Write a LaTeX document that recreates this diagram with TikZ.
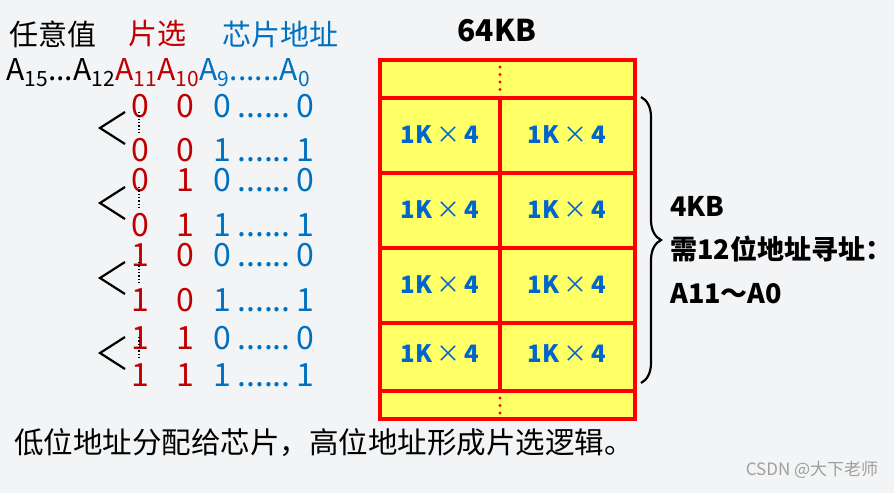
\documentclass[tikz,border=0pt]{standalone}
\usepackage{fontspec}
\setmainfont{Noto Sans CJK SC}
\usepackage{tikz}
\usetikzlibrary{decorations.pathreplacing}
\definecolor{selred}{HTML}{C00000}
\definecolor{addrblue}{HTML}{0070C0}
\definecolor{chipblue}{HTML}{0066CC}
\definecolor{chipyellow}{HTML}{FFFF66}
\definecolor{bgsky}{HTML}{F3F4F6}

\begin{document}
\begin{tikzpicture}[x=1pt,y=-1pt,
    txt/.style={inner sep=0pt,font=\fontsize{29}{29}\selectfont},
    bit/.style={inner sep=0pt,anchor=base,font=\fontsize{32}{32}\selectfont},
    chip/.style={inner sep=0pt,text=chipblue,font=\fontsize{24}{24}\selectfont\bfseries},
    note/.style={inner sep=0pt,anchor=west,font=\fontsize{27}{27}\selectfont\bfseries},
    grid/.style={red,line width=4pt}]
      \fill[bgsky] (0,0) rectangle (894,493);
      \useasboundingbox (0,0) rectangle (894,493);
      % header
      \node[txt] (any) at (53,34) {任意值};
      \node[txt,text=selred] (sel) at (157,34) {片选};
      \node[txt,text=addrblue] (addr) at (280,34) {芯片地址};
      \node[inner sep=0pt,font=\fontsize{30}{30}\selectfont\bfseries] (total) at (497,31) {64KB};
      \node[inner sep=0pt,anchor=base west,font=\fontsize{30}{30}\selectfont] (lines) at (6,80)
        {A\textsubscript{15}...A\textsubscript{12}{\color{selred}A\textsubscript{11}A\textsubscript{10}}{\color{addrblue}A\textsubscript{9}......A\textsubscript{0}}};
      % address combinations
      \foreach \y/\p/\q/\r/\s [count=\i] in {117/0/0/0/0,161/0/0/1/1,191/0/1/0/0,236/0/1/1/1,
        266/1/0/0/0,311/1/0/1/1,349/1/1/0/0,386/1/1/1/1} {
        \node[bit,text=selred] (hi\i) at (140,\y) {\p};
        \node[bit,text=selred] (mid\i) at (185,\y) {\q};
        \node[bit,text=addrblue] (lo\i) at (222,\y) {\r};
        \node[bit,text=addrblue] (dots\i) at (264,\y) {......};
        \node[bit,text=addrblue] (end\i) at (305,\y) {\s};
      }
      \foreach \y in {128,203,278,353} {
        \draw[line width=2.2pt] (125,\y-16) -- (100,\y) -- (125,\y+16);
        \draw[dotted,line width=1.3pt] (139,\y-16) -- (139,\y+5);
      }
      % memory
      \fill[chipyellow] (380,60) rectangle (635,419);
      \draw[grid] (380,60) rectangle (635,419);
      \foreach \y in {98,173,248,323,391}
        \draw[grid] (380,\y) -- (635,\y);
      \draw[grid] (500,98) -- (500,391);
      \foreach \y [count=\i] in {135,210,285,354} {
        \node[chip] (chipL\i) at (440,\y) {1K\,{\mdseries ×}\,4};
        \node[chip] (chipR\i) at (567,\y) {1K\,{\mdseries ×}\,4};
      }
      \foreach \y in {67,74.5,82,89.5,398,405.5,413}
        \fill[red] (500,\y) circle (1.7);
      % brace and notes
      \draw[decorate,decoration={brace,amplitude=20pt},line width=2.2pt] (641,97) -- (641,383);
      \node[note] (kb) at (670,206) {4KB};
      \node[note] (need) at (670,249) {需12位地址寻址：};
      \node[note] (range) at (670,294) {A11～A0};
      \node[inner sep=0pt,anchor=west,font=\fontsize{29.5}{29.5}\selectfont] (summary) at (14,443) {低位地址分配给芯片，高位地址形成片选逻辑。};
      \node[inner sep=0pt,text=gray!75,font=\fontsize{17}{17}\selectfont] (mark) at (812,470) {CSDN @大下老师};
    \end{tikzpicture}
\end{document}
